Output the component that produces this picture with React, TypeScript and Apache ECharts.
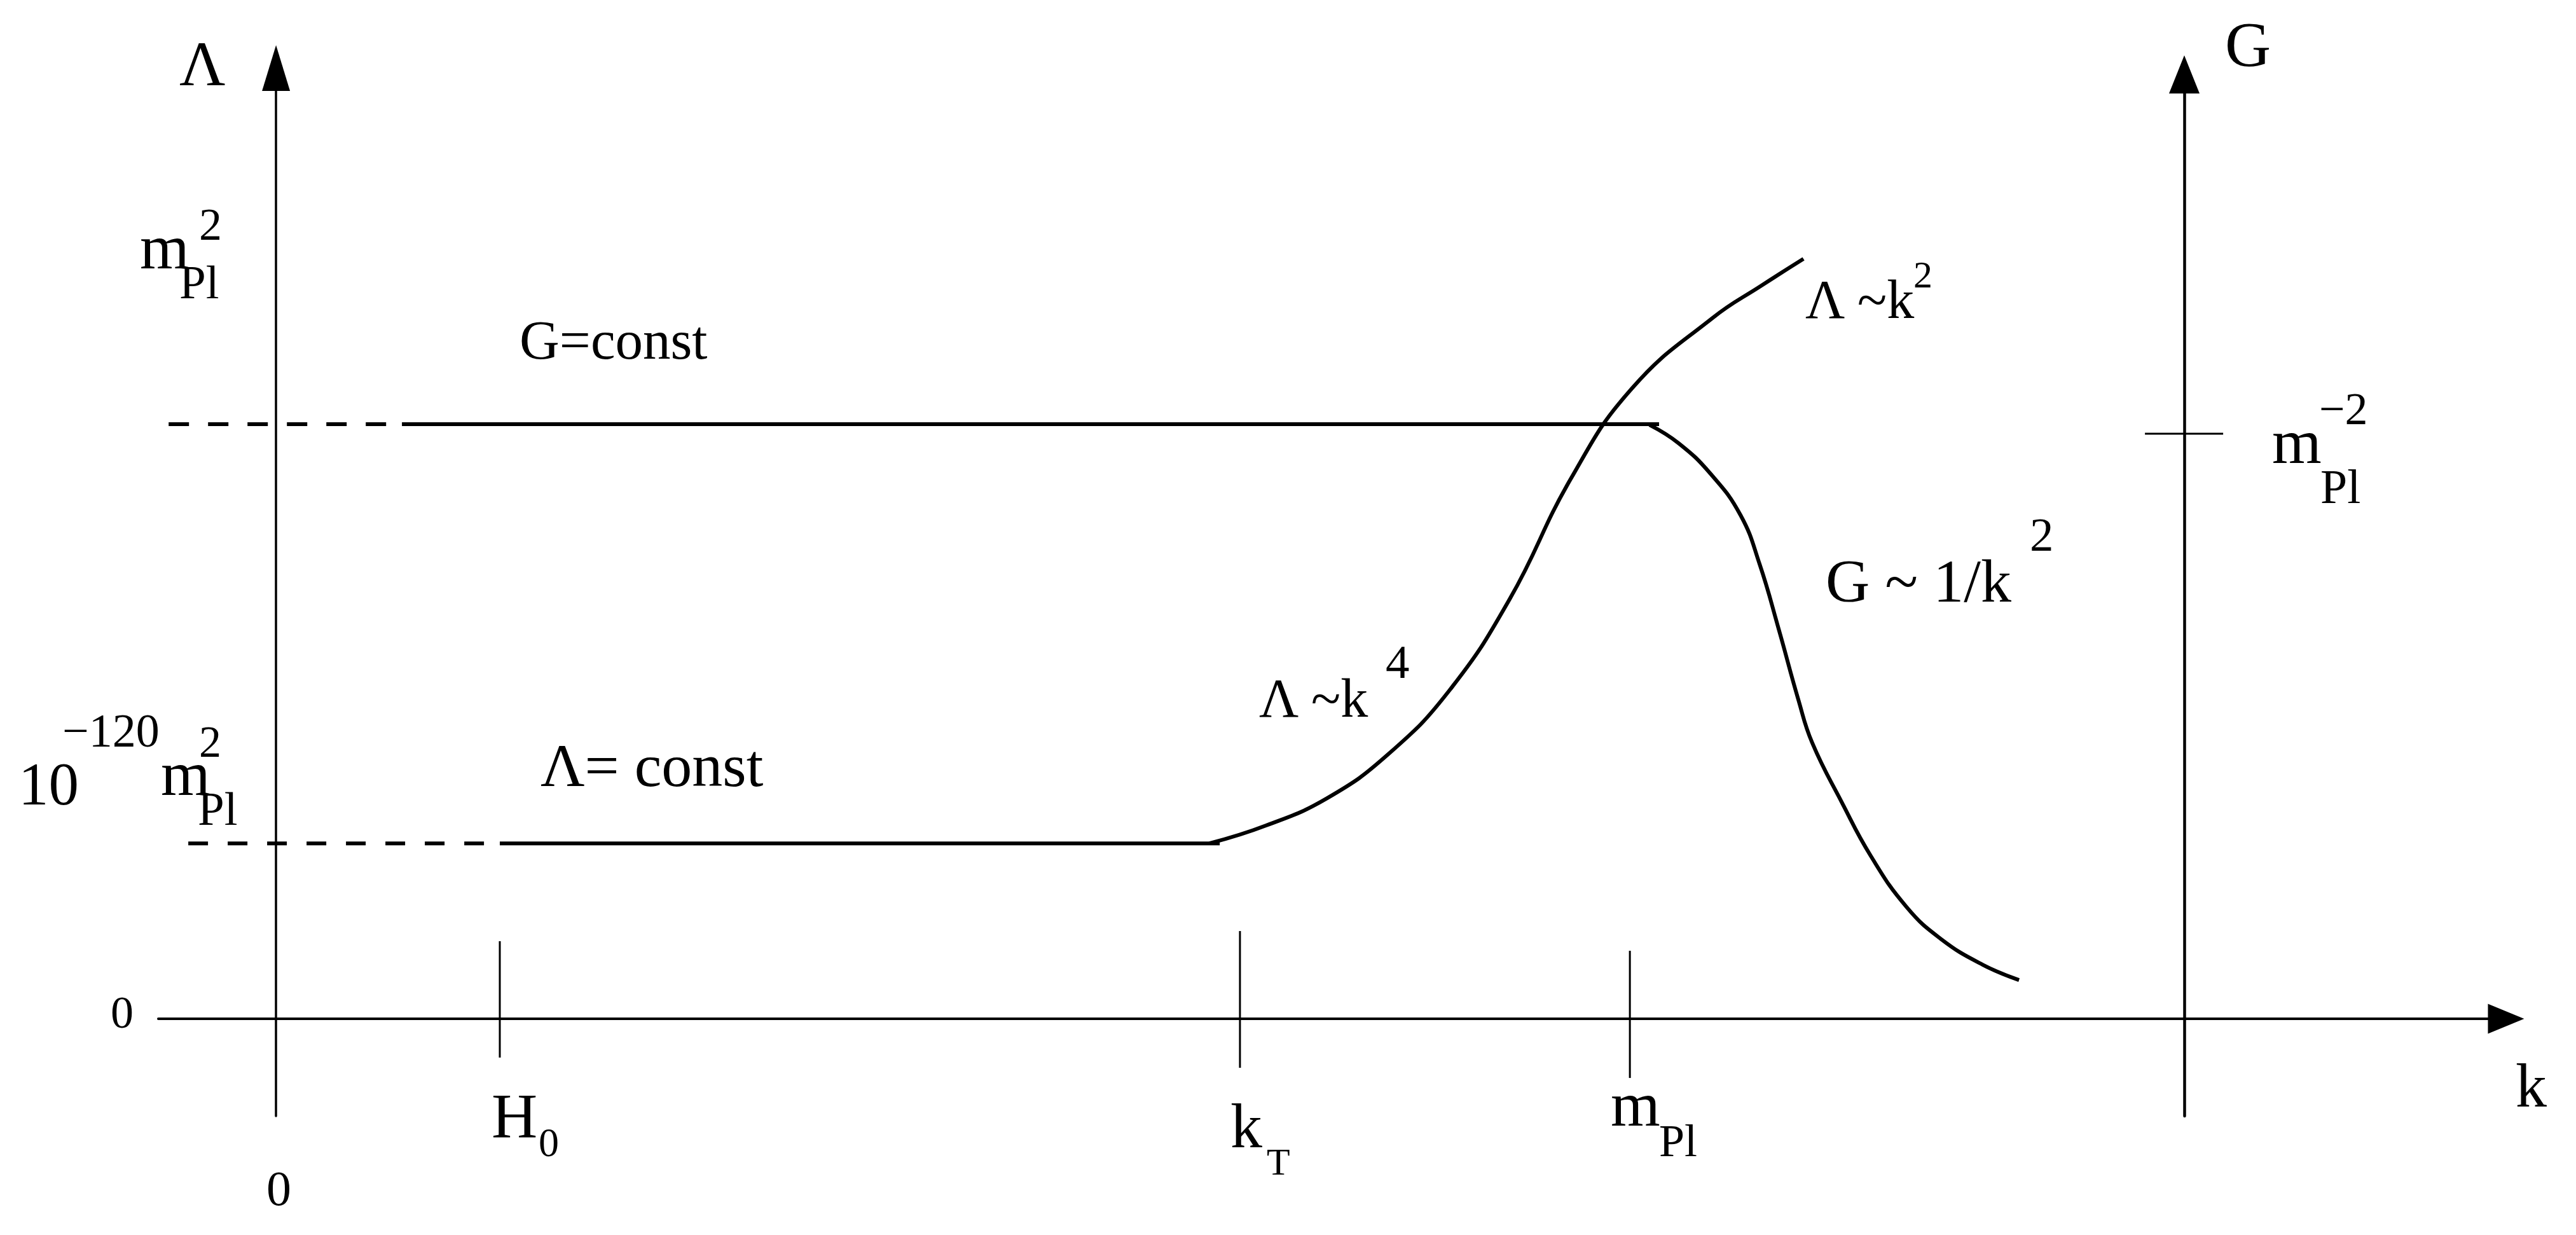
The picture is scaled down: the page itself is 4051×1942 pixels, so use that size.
import React, { useEffect, useRef } from "react";
import * as echarts from "echarts";

// ---- schematic data (k along the horizontal axis, Λ / G up the vertical axes) ----
const tickNames = ["H0", "kT", "mPl"];
const tickK = [11.73, 50.53, 70.97];
const tickTop = [13.05, 14.76, 11.44];
const tickBottom = [-6.52, -8.24, -9.95];

const gConstLevel = 100;
const lambdaConstLevel = 29.5;
const gDashedK = [-5.63, 6.6];
const gConstK = [6.6, 72.5];
const lambdaDashedK = [-4.6, 11.73];
const lambdaConstK = [11.73, 49.47];

// Λ rising branch (Λ ~ k^4 then Λ ~ k^2)
const lambdaRiseK = [48.93, 51.9, 55.1, 58.3, 61.5, 64.67, 67.87, 71.07, 75.3, 77.87, 80.07];
const lambdaRiseV = [29.5, 32.51, 37.11, 44.49, 55.19, 70.59, 90.8, 106.0, 117.86, 123.32, 127.81];

// G falling branch (G ~ 1/k^2)
const gFallK = [72.0, 73.53, 75.2, 76.77, 77.77, 78.77, 79.8, 80.53, 82.07, 83.6, 85.47, 87.3, 89.47, 91.37];
const gFallV = [99.89, 96.79, 91.66, 84.71, 76.47, 65.56, 53.69, 46.4, 36.47, 27.38, 18.82, 13.37, 9.09, 6.52];

// tick on the G axis at m_Pl^-2
const gTickLevel = 98.4;
const gTickK = [97.97, 102.07];

const X_MIN = -6.17;
const X_MAX = 116.9;
const Y_MIN = -16.36;
const Y_MAX = 159.9;

const FONT = '"Liberation Serif", "Times New Roman", "DejaVu Serif", serif';

// annotation texts: [text, x, y(center), fontSize]
const annotations: [string, number, number, number][] = [
  ["Λ", 282, 100, 100],
  ["m", 220, 388, 100], ["2", 313, 353, 72], ["Pl", 282, 443, 75],
  ["G=const", 817, 534, 87],
  ["10", 29, 1233, 95], ["−120", 98, 1149, 74], ["m", 253, 1216, 100], ["2", 313, 1166, 70], ["Pl", 311, 1271, 75],
  ["Λ= const", 850, 1203, 96],
  ["0", 174, 1592, 72],
  ["0", 419, 1868, 78],
  ["H", 773, 1754, 100], ["0", 847, 1796, 64],
  ["k", 1935, 1770, 100], ["T", 1992, 1827, 60],
  ["m", 2533, 1736, 100], ["Pl", 2609, 1794, 72],
  ["k", 3956, 1707, 98],
  ["G", 3499, 69, 100],
  ["Λ ~k", 2839, 471, 86], ["2", 3009, 432, 60],
  ["Λ ~k", 1980, 1098, 86], ["4", 2179, 1040, 75],
  ["G ~ 1/k", 2871, 913, 96], ["2", 3192, 840, 75],
  ["m", 3573, 694, 100], ["−2", 3647, 643, 72], ["Pl", 3649, 765, 76],
];

function lineSeries(name: string, data: number[][], width: number, extra: any = {}) {
  return {
    name,
    type: "line",
    data,
    symbol: "none",
    showSymbol: false,
    silent: true,
    clip: false,
    lineStyle: { color: "#000", width, cap: "butt", join: "round", ...(extra.lineStyle || {}) },
    smooth: extra.smooth || false,
    z: 3,
  };
}

export default function App() {
  const ref = useRef<HTMLDivElement>(null);

  useEffect(() => {
    if (!ref.current) return;
    const chart = echarts.init(ref.current, undefined, { renderer: "svg" });

    const series: any[] = [
      lineSeries("G dashed", [[gDashedK[0], gConstLevel], [gDashedK[1], gConstLevel]], 6, { lineStyle: { type: [32, 30] } }),
      lineSeries("G=const", [[gConstK[0], gConstLevel], [gConstK[1], gConstLevel]], 6),
      lineSeries("Λ dashed", [[lambdaDashedK[0], lambdaConstLevel], [lambdaDashedK[1], lambdaConstLevel]], 6, { lineStyle: { type: [31, 31] } }),
      lineSeries("Λ=const", [[lambdaConstK[0], lambdaConstLevel], [lambdaConstK[1], lambdaConstLevel]], 6),
      lineSeries("Λ rise", lambdaRiseK.map((k, i) => [k, lambdaRiseV[i]]), 6, { smooth: 0.45 }),
      lineSeries("G fall", gFallK.map((k, i) => [k, gFallV[i]]), 6, { smooth: 0.45 }),
      lineSeries("G tick", [[gTickK[0], gTickLevel], [gTickK[1], gTickLevel]], 3),
      ...tickNames.map((n, i) =>
        lineSeries("tick " + n, [[tickK[i], tickBottom[i]], [tickK[i], tickTop[i]]], 3)
      ),
    ];

    const graphic: any[] = annotations.map(([t, x, y, s]) => ({
      type: "text",
      x,
      y,
      silent: true,
      z: 10,
      style: {
        text: t,
        fill: "#000",
        fontSize: s,
        fontFamily: FONT,
        align: "left",
        verticalAlign: "middle",
      },
    }));

    const axisCommon = {
      axisTick: { show: false },
      axisLabel: { show: false },
      splitLine: { show: false },
    };

    chart.setOption({
      animation: false,
      backgroundColor: "#fff",
      grid: { left: 249, right: 110, top: 107, bottom: 187, containLabel: false },
      xAxis: {
        type: "value",
        min: X_MIN,
        max: X_MAX,
        ...axisCommon,
        axisLine: {
          show: true,
          onZero: true,
          symbol: ["none", "triangle"],
          symbolSize: [47, 57],
          lineStyle: { color: "#000", width: 4 },
        },
      },
      yAxis: [
        {
          type: "value",
          min: Y_MIN,
          max: Y_MAX,
          position: "left",
          ...axisCommon,
          axisLine: {
            show: true,
            onZero: true,
            symbol: ["none", "triangle"],
            symbolSize: [44, 72],
            lineStyle: { color: "#000", width: 3.5 },
          },
        },
        {
          type: "value",
          min: Y_MIN,
          max: Y_MAX,
          position: "right",
          offset: -506,
          ...axisCommon,
          axisLine: {
            show: true,
            onZero: false,
            symbol: ["none", "triangle"],
            symbolSize: [48, 60],
            symbolOffset: [0, -10],
            lineStyle: { color: "#000", width: 4.5 },
          },
        },
      ],
      series,
      graphic,
    });

    return () => chart.dispose();
  }, []);

  return (
    <div
      ref={ref}
      style={{ position: "absolute", left: 0, top: 0, width: 4051, height: 1942, background: "#fff" }}
    />
  );
}
